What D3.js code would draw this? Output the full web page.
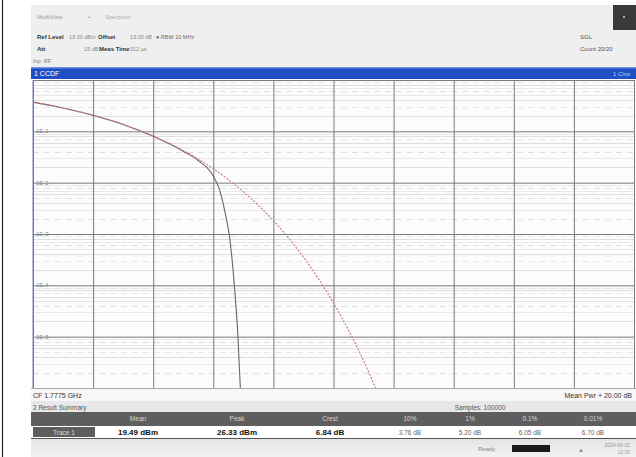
<!DOCTYPE html>
<html><head><meta charset="utf-8">
<script src="https://cdn.jsdelivr.net/npm/d3@7"></script>
<style>body{margin:0;background:#fff}svg{display:block;font-family:"Liberation Sans",Arial,sans-serif}</style>
</head><body><svg id="c" width="636" height="457"></svg>
<script>
// ---- data ----
const xTicks = [0,2,4,6,8,10,12,14,16,18,20];           // dB above mean power
const yDecades = [1,1e-1,1e-2,1e-3,1e-4,1e-5,1e-6];
const yLabels = ["","1E-1","1E-2","1E-3","1E-4","1E-5",""];
const measDb   = [0,1,2,3,4,5,5.5,6.0,6.2,6.4,6.55,6.7,6.82,6.9];
const measProb = [0.37,0.285,0.205,0.136,0.080,0.041,0.027,0.0135,0.0075,0.0025,0.0008,0.0001,0.00001,0.000001];
const gaussDb   = [0,1,2,3,4,5,6,7,8,9,10,10.5,11,11.4];
const gaussProb = [0.368,0.284,0.205,0.136,0.081,0.0423,0.0187,0.00666,0.00182,0.000355,0.0000454,0.0000134,0.0000034,0.000001];
const colHeads = ["Mean","Peak","Crest","10%","1%","0.1%","0.01%"];
const colVals  = ["19.49 dBm","26.33 dBm","6.84 dB","3.76 dB","5.20 dB","6.05 dB","6.70 dB"];
const colX     = [138,237,330,410,470,530,593];

const svg = d3.select("#c");
const X0=33, X1=634, Y0=80, Y1=388;
const x = d3.scaleLinear().domain([0,20]).range([X0,X1]);
const y = d3.scaleLog().domain([1e-6,1]).range([Y1,Y0]);

svg.append("rect").attr("x",0).attr("y",0).attr("width",636).attr("height",457).attr("fill","#fff");
svg.append("line").attr("x1",2.5).attr("x2",2.5).attr("y1",0).attr("y2",457).attr("stroke","#222").attr("stroke-width",1.2);

// header
svg.append("rect").attr("x",31).attr("y",5).attr("width",605).attr("height",62).attr("fill","#efefef");
svg.append("rect").attr("x",613).attr("y",5).attr("width",23).attr("height",25).attr("fill","#3a3a3a");
svg.append("circle").attr("cx",624).attr("cy",17).attr("r",1).attr("fill","#ccc");
const T=(t,xx,yy,o={})=>svg.append("text").attr("x",xx).attr("y",yy).text(t)
  .attr("font-size",o.s||6.5).attr("fill",o.c||"#555").attr("font-weight",o.w||"normal")
  .attr("text-anchor",o.a||"start");
T("MultiView",37,19,{c:"#999",s:6}); T("•",88,19,{c:"#999",s:6}); T("Spectrum",105,19,{c:"#aaa",s:6});
T("Ref Level",37,39,{c:"#333",w:"bold",s:6}); T("13.00 dBm",69,39,{c:"#888",s:5.5});
T("Offset",98,39,{c:"#333",w:"bold",s:6}); T("13.00 dB",130,39,{c:"#888",s:5.5}); T("● RBW 10 MHz",156,39,{c:"#666",s:5.5});
T("Att",37,51,{c:"#333",w:"bold",s:6}); T("15 dB",84,51,{c:"#888",s:5.5});
T("Meas Time",99,51,{c:"#333",w:"bold",s:6}); T("312 µs",130,51,{c:"#888",s:5.5});
T("Inp: RF",33,63,{c:"#777",s:5.5});
T("SGL",580,39,{c:"#555",s:6}); T("Count 20/20",580,51,{c:"#555",s:6});

// blue title bar
svg.append("rect").attr("x",31).attr("y",67).attr("width",605).attr("height",12).attr("fill","#1f4fc4");
svg.append("rect").attr("x",31).attr("y",67).attr("width",605).attr("height",1.5).attr("fill","#6f8fe0");
T("1 CCDF",34,76,{c:"#fff",s:7});
T("1 Clrw",630,76,{c:"#b8c8f4",a:"end",s:6});

// plot background
svg.append("rect").attr("x",X0).attr("y",Y0).attr("width",X1-X0).attr("height",Y1-Y0).attr("fill","#fcfcfc");
svg.append("line").attr("x1",X0-0.5).attr("x2",X0-0.5).attr("y1",Y0).attr("y2",Y1).attr("stroke","#b8c0dc");

// minor log grid
const minors=[];
for(let d=0; d<6; d++) for(let m=2;m<=9;m++) minors.push(Math.pow(10,-d-1)*m);
svg.append("g").selectAll("line").data(minors).join("line")
  .attr("x1",X0).attr("x2",X1).attr("y1",d=>Math.round(y(d))+0.5).attr("y2",d=>Math.round(y(d))+0.5)
  .attr("stroke",(d,i)=>i%2? "#e8e8e8":"#dedede")
  .attr("stroke-dasharray",(d,i)=>i%3===1?"6,5":null);

// major grid via axes
const gx = svg.append("g").attr("transform",`translate(0,${Y1})`)
  .call(d3.axisBottom(x).tickValues(xTicks).tickSize(-(Y1-Y0)).tickFormat(""));
const gy = svg.append("g").attr("transform",`translate(${X0},0)`)
  .call(d3.axisLeft(y).tickValues(yDecades).tickSize(-(X1-X0)).tickFormat(""));
[gx,gy].forEach(g=>{g.select(".domain").remove(); g.selectAll("line").attr("stroke","#7a7a7a").attr("stroke-width",1);});

// y labels
svg.append("g").selectAll("text").data(yDecades).join("text")
  .attr("x",36).attr("y",d=>y(d)+2).text((d,i)=>yLabels[i])
  .attr("font-size",6).attr("fill","#888");

// curves
svg.append("path").datum(measDb.map((d,i)=>[d,measProb[i]]))
  .attr("d",d3.line().x(d=>x(d[0])).y(d=>y(d[1])).curve(d3.curveMonotoneX))
  .attr("fill","none").attr("stroke","#6e6464").attr("stroke-width",1.1);
svg.append("path").datum(gaussDb.map((d,i)=>[d,gaussProb[i]]))
  .attr("d",d3.line().x(d=>x(d[0])).y(d=>y(d[1])).curve(d3.curveMonotoneX))
  .attr("fill","none").attr("stroke","#c98080").attr("stroke-width",1.2).attr("stroke-dasharray","2,1.5");

// bottom info row
svg.append("rect").attr("x",31).attr("y",Y1).attr("width",605).attr("height",13).attr("fill","#f7f7f7");
svg.append("line").attr("x1",31).attr("x2",636).attr("y1",Y1+0.5).attr("y2",Y1+0.5).attr("stroke","#aaa");
T("CF 1.7775 GHz",33,398,{c:"#333",s:7});
T("Mean Pwr + 20.00 dB",632,398,{c:"#333",s:7,a:"end"});

// result summary bar
svg.append("rect").attr("x",31).attr("y",401).attr("width",605).attr("height",11).attr("fill","#e8e8e8");
T("2 Result Summary",33,410,{c:"#555",s:6.5});
T("Samples: 100000",480,410,{c:"#555",s:6.5,a:"middle"});

// table header
svg.append("rect").attr("x",31).attr("y",412).attr("width",605).attr("height",14).attr("fill","#5e5e5e");
svg.append("g").selectAll("text").data(colHeads).join("text")
  .attr("x",(d,i)=>colX[i]).attr("y",421).attr("text-anchor","middle").text(d=>d)
  .attr("font-size",6.5).attr("fill","#d8d8d8");
// values row
svg.append("rect").attr("x",31).attr("y",426).attr("width",605).attr("height",12).attr("fill","#fff");
svg.append("rect").attr("x",33).attr("y",427).attr("width",62).attr("height",10).attr("fill","#5e5e5e");
T("Trace 1",64,435,{c:"#ddd",s:6.5,a:"middle"});
svg.append("g").selectAll("text").data(colVals).join("text")
  .attr("x",(d,i)=>colX[i]).attr("y",435).attr("text-anchor","middle").text(d=>d)
  .attr("font-size",(d,i)=>i<3?8:6.5).attr("font-weight",(d,i)=>i<3?"bold":"normal")
  .attr("fill",(d,i)=>i<3?"#111":"#666");
svg.append("line").attr("x1",31).attr("x2",636).attr("y1",438.5).attr("y2",438.5).attr("stroke","#555");

// status bar
const grad = svg.append("defs").append("linearGradient").attr("id","sb").attr("x1",0).attr("x2",0).attr("y1",0).attr("y2",1);
grad.append("stop").attr("offset",0).attr("stop-color","#e4e4e4");
grad.append("stop").attr("offset",1).attr("stop-color","#f2f2f2");
svg.append("rect").attr("x",31).attr("y",439).attr("width",605).attr("height",18).attr("fill","url(#sb)");
T("Ready",478,451,{c:"#888",s:6});
svg.append("rect").attr("x",512).attr("y",445).attr("width",38).attr("height",7).attr("fill","#1a1a1a");
T("▲",578,452,{c:"#6a9a6a",s:6});
T("2024-06-02",630,447,{c:"#999",s:5,a:"end"});
T("12:00",630,454,{c:"#999",s:5,a:"end"});
</script></body></html>
